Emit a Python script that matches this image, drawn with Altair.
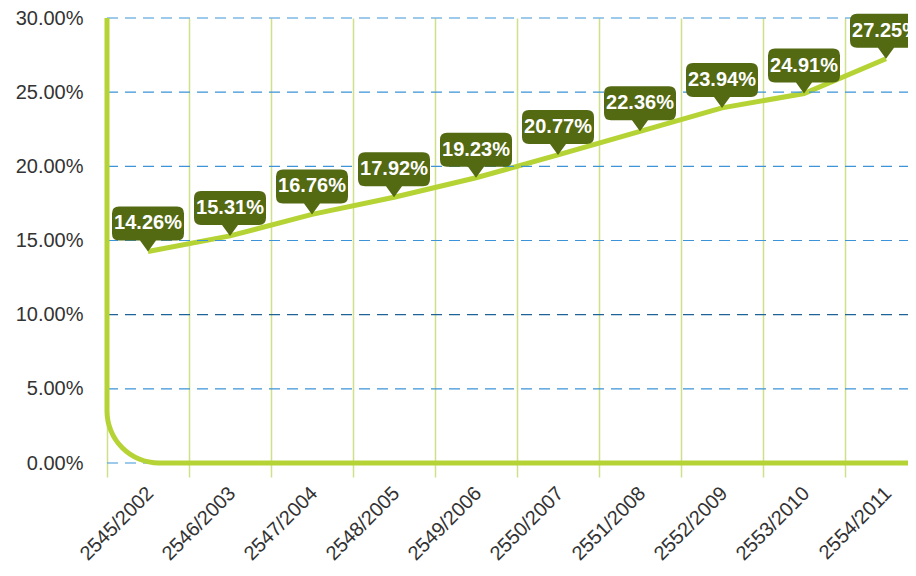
import math
import altair as alt
import pandas as pd

years = ["2545/2002", "2546/2003", "2547/2004", "2548/2005", "2549/2006",
         "2550/2007", "2551/2008", "2552/2009", "2553/2010", "2554/2011"]
values = [14.26, 15.31, 16.76, 17.92, 19.23, 20.77, 22.36, 23.94, 24.91, 27.25]
labels = ["14.26%", "15.31%", "16.76%", "17.92%", "19.23%",
          "20.77%", "22.36%", "23.94%", "24.91%", "27.25%"]
y_ticks = [0, 5, 10, 15, 20, 25, 30]

df = pd.DataFrame({"year": years, "value": values, "label": labels})
grid_df = pd.DataFrame({"v": y_ticks})
one = pd.DataFrame({"k": [0]})

W, H = 801, 445
FULL = 820
R = 52
LIME = "#b5d334"
OLIVE = "#536912"
FONT = "Liberation Sans"

callout = ("M -0.58 -0.9 L 0.58 -0.9 Q 0.72 -0.9 0.72 -0.76 L 0.72 -0.36 "
           "Q 0.72 -0.22 0.58 -0.22 L 0.16 -0.22 L 0 0 L -0.16 -0.22 "
           "L -0.58 -0.22 Q -0.72 -0.22 -0.72 -0.36 L -0.72 -0.76 "
           "Q -0.72 -0.9 -0.58 -0.9 Z")

xscale = alt.Scale(paddingInner=0, paddingOuter=0, range=[0, FULL])
yscale = alt.Scale(domain=[0, 30], nice=False, zero=True)

x_enc = alt.X("year:N", sort=years, title=None, scale=xscale,
              axis=alt.Axis(tickBand="extent", grid=True, gridColor="#cfe08a",
                            gridWidth=1.5, ticks=True, tickSize=14,
                            tickColor="#cfe08a", tickWidth=1.5, domain=False,
                            labelAngle=-45, labelAlign="right",
                            labelBaseline="middle", labelPadding=13,
                            labelOffset=2, labelFont=FONT, labelFontSize=20,
                            labelColor="#333333"))
y_enc = alt.Y("value:Q", title=None, scale=yscale,
              axis=alt.Axis(values=y_ticks, grid=False, ticks=False,
                            domain=False, labelPadding=24,
                            labelExpr="format(datum.value, '.2f') + '%'",
                            labelFont=FONT, labelFontSize=20,
                            labelColor="#333333"))

grid = alt.Chart(grid_df).mark_rule(strokeDash=[11, 7], strokeWidth=1.2).encode(
    y=alt.Y("v:Q", scale=yscale),
    x=alt.value(0), x2=alt.value(FULL),
    color=alt.condition("datum.v == 10", alt.value("#1e6296"), alt.value("#3d93d8")))

line = alt.Chart(df).mark_line(color=LIME, strokeWidth=5).encode(x=x_enc, y=y_enc)

vrule = alt.Chart(one).mark_rule(color=LIME, strokeWidth=5).encode(
    x=alt.value(0), y=alt.value(0), y2=alt.value(H - R))
hrule = alt.Chart(one).mark_rule(color=LIME, strokeWidth=5).encode(
    x=alt.value(R), x2=alt.value(FULL), y=alt.value(H))
corner = alt.Chart(one).mark_arc(color=LIME, theta=math.pi, theta2=1.5 * math.pi,
                                 radius=R + 2.5, radius2=R - 2.5).encode(
    x=alt.value(R), y=alt.value(H - R))

boxes = alt.Chart(df).mark_point(shape=callout, size=10000, filled=True,
                                 fill=OLIVE, opacity=1, strokeWidth=0).encode(
    x=alt.X("year:N", sort=years), y="value:Q")
texts = alt.Chart(df).mark_text(dy=-28, color="white", fontSize=20,
                                fontWeight="bold", font=FONT,
                                baseline="middle", align="center").encode(
    x=alt.X("year:N", sort=years), y="value:Q", text="label:N")

chart = alt.layer(line, grid, vrule, hrule, corner, boxes, texts).properties(
    width=W, height=H,
    autosize=alt.AutoSizeParams(type="none"),
    padding={"left": 99, "top": 10, "right": 0, "bottom": 105},
    background="white"
).configure_view(stroke=None)

chart.save("out.html", embed_options={"renderer": "svg", "actions": False})
